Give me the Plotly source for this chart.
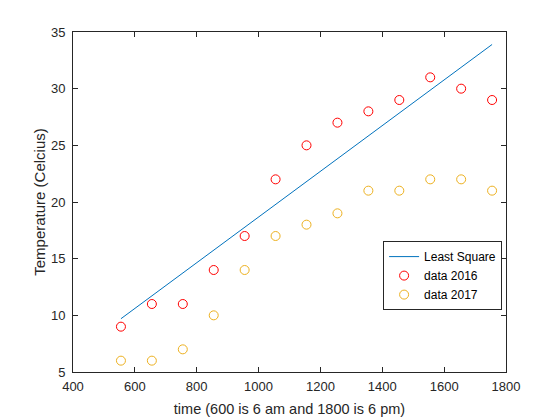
import plotly.graph_objects as go

time_x = [555, 655, 755, 855, 955, 1055, 1155, 1255, 1355, 1455, 1555, 1655, 1755]
temp_2016 = [9, 11, 11, 14, 17, 22, 25, 27, 28, 29, 31, 30, 29]
temp_2017 = [6, 6, 7, 10, 14, 17, 18, 19, 21, 21, 22, 22, 21]
ls_x = [555, 1755]
ls_y = [9.7, 33.9]

x_ticks = [400, 600, 800, 1000, 1200, 1400, 1600, 1800]
y_ticks = [5, 10, 15, 20, 25, 30, 35]

axc = "#262626"
FONT = "Arial, Liberation Sans, sans-serif"
fig = go.Figure()
fig.add_trace(go.Scatter(x=ls_x, y=ls_y, mode="lines", name="Least Square",
                         line=dict(color="#0072BD", width=1)))
fig.add_trace(go.Scatter(x=time_x, y=temp_2016, mode="markers", name="data 2016",
                         marker=dict(symbol="circle-open", size=9, color="#FF0000",
                                     line=dict(width=1, color="#FF0000"))))
fig.add_trace(go.Scatter(x=time_x, y=temp_2017, mode="markers", name="data 2017",
                         marker=dict(symbol="circle-open", size=9, color="#EDB120",
                                     line=dict(width=1, color="#EDB120"))))

axis_common = dict(showline=True, linecolor=axc, linewidth=1, mirror="allticks",
                   ticks="inside", ticklen=5, tickcolor=axc, showgrid=False, zeroline=False,
                   automargin=False,
                   tickfont=dict(family=FONT, size=13, color=axc))
fig.update_xaxes(range=[400, 1800], tickvals=x_ticks, ticklabelstandoff=2,
                 title=dict(text="time (600 is 6 am and 1800 is 6 pm)", standoff=11,
                            font=dict(family=FONT, size=14.5, color=axc)),
                 **axis_common)
fig.update_yaxes(range=[5, 35], tickvals=y_ticks, ticklabelstandoff=4,
                 title=dict(text="Temperature (Celcius)", standoff=1,
                            font=dict(family=FONT, size=15, color=axc)),
                 **axis_common)
fig.update_layout(
    width=560, height=420,
    margin=dict(l=73, r=54, t=32, b=48),
    paper_bgcolor="white", plot_bgcolor="white",
    font=dict(family=FONT, color=axc, size=12),
    legend=dict(x=0.991, y=0.385, xanchor="right", yanchor="top",
                bgcolor="white", bordercolor=axc, borderwidth=1,
                font=dict(family=FONT, size=12, color="#000000"), tracegroupgap=0, itemwidth=30),
    showlegend=True,
)
fig.write_html("out.html")
